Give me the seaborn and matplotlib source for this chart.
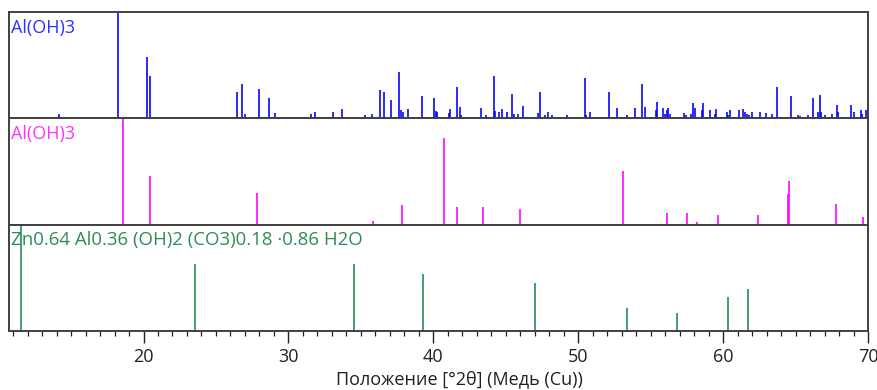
import numpy as np
import pandas as pd
import matplotlib
matplotlib.use("Agg")
import matplotlib.pyplot as plt
from matplotlib.ticker import MultipleLocator
import seaborn as sns

# ---- reference patterns (position in deg 2theta, relative intensity %) ----
gibbsite_pos = [14.15, 18.23, 20.24, 20.48, 26.46, 26.81, 26.97, 27.99, 28.65, 29.05,
                31.56, 31.81, 33.06, 33.73, 35.32, 35.74, 36.31, 36.57, 37.05, 37.65,
                37.76, 37.90, 38.25, 39.24, 40.07, 40.19, 40.28, 41.07, 41.16, 41.64,
                41.83, 41.90, 43.32, 43.65, 44.18, 44.27, 44.50, 44.75, 45.08, 45.43,
                45.59, 45.84, 46.16, 47.25, 47.34, 47.73, 47.92, 48.17, 49.23, 50.48,
                50.57, 50.82, 52.16, 52.66, 53.34, 53.94, 54.42, 54.60, 55.34, 55.43,
                55.83, 56.01, 56.10, 56.19, 56.31, 57.33, 57.42, 57.76, 57.90, 58.09,
                58.51, 58.60, 59.08, 59.43, 59.52, 60.26, 60.33, 60.51, 61.09, 61.34,
                61.50, 61.64, 61.76, 62.01, 62.52, 62.93, 63.35, 63.74, 64.66, 65.19,
                65.29, 65.84, 66.19, 66.53, 66.67, 66.76, 67.02, 67.50, 67.85, 67.94,
                68.84, 69.03, 69.51, 69.60, 69.86]
gibbsite_int = [4, 100, 58, 40, 25, 33, 4, 28, 19, 5,
                4.5, 6.4, 6.4, 8.6, 3, 4.5, 27, 25, 17, 43.5,
                7.6, 6.4, 8.6, 21.6, 19, 7, 6, 5, 8.6, 30,
                11, 3, 10, 3, 40, 7, 6.4, 8.6, 6.4, 23.5,
                4, 4.5, 12, 5.4, 25, 3, 6.4, 3, 3, 38,
                3, 6.4, 25, 10, 3, 10, 33, 11, 7.6, 15.5,
                10, 4.5, 7.6, 10, 4.5, 5.4, 3, 4.5, 14.6, 10,
                7.6, 14.6, 7.6, 4.5, 8.6, 6.4, 3, 7.6, 7.6, 8.6,
                6.4, 4.5, 3, 6.4, 6.4, 5.4, 4.5, 30, 21.6, 3,
                2, 3, 19, 6.4, 22.5, 6.4, 3, 4.5, 13, 6.4,
                13, 6.4, 7.6, 4.5, 7.6]

bayerite_pos = [18.60, 20.48, 27.80, 35.83, 37.81, 40.72, 41.66, 43.42, 45.98, 53.08,
                56.10, 57.51, 58.18, 59.68, 62.42, 64.46, 64.53, 67.78, 69.69]
bayerite_int = [100, 46, 30, 4, 19, 82, 17, 16.5, 15, 51,
                11, 11, 3, 9.6, 9.6, 29, 41, 19.6, 7.8]

ldh_pos = [11.56, 23.56, 34.56, 39.27, 47.02, 53.34, 56.84, 60.35, 61.69]
ldh_int = [100, 63, 63, 54, 45, 22, 17.5, 32, 40]

phase_names = ["Al(OH)3", "Al(OH)3", "Zn0.64 Al0.36 (OH)2 (CO3)0.18 \u00b70.86 H2O"]
line_colors = ["#0000ff", "#ff00ff", "#1b8a4f"]
text_colors = ["#2f2fff", "#ff33ff", "#2e8b57"]

x_label = "Положение [°2θ] (Медь (Cu))"
x_ticks = [20, 30, 40, 50, 60, 70]

sns.set_theme(style="white")
plt.rcParams["font.family"] = ["Open Sans", "DejaVu Sans"]

patterns = [
    pd.DataFrame({"pos": gibbsite_pos, "int": gibbsite_int}),
    pd.DataFrame({"pos": bayerite_pos, "int": bayerite_int}),
    pd.DataFrame({"pos": ldh_pos, "int": ldh_int}),
]

fig, axes = plt.subplots(3, 1, figsize=(8.78, 3.90), dpi=100, sharex=True,
                         gridspec_kw={"hspace": 0.0})
fig.subplots_adjust(left=0.0103, right=0.9886, top=0.969, bottom=0.151)

for ax, df, name, lc, tc in zip(axes, patterns, phase_names, line_colors, text_colors):
    ax.vlines(df["pos"], 0, df["int"], colors=lc, linewidth=1.3, alpha=0.9)
    ax.set_ylim(0, 100.5)
    ax.set_yticks([])
    # the long formula label is drawn slightly larger in the original
    fs = 13.4 if len(name) > 10 else 13
    ax.text(0.002, 0.855, name, transform=ax.transAxes, color=tc,
            fontsize=fs, va="center", ha="left")
    for s in ax.spines.values():
        s.set_color("#404040")
        s.set_linewidth(1.4)
    ax.tick_params(axis="x", which="both", bottom=False, labelbottom=False)

ax = axes[-1]
ax.set_xlim(10.72, 70)
ax.xaxis.set_major_locator(MultipleLocator(10))
ax.xaxis.set_minor_locator(MultipleLocator(1))
ax.set_xticks(x_ticks)
ax.tick_params(axis="x", which="major", bottom=True, labelbottom=True, direction="out",
               length=8.5, width=1.0, color="#202020", labelsize=13, pad=4,
               labelcolor="#202020")
ax.tick_params(axis="x", which="minor", bottom=True, direction="out",
               length=3.5, width=0.9, color="#202020")
ax.set_xlabel(x_label, fontsize=13, color="#202020", labelpad=3)
ax.xaxis.label.set_x(0.524)

fig.savefig("out.png", dpi=100)
